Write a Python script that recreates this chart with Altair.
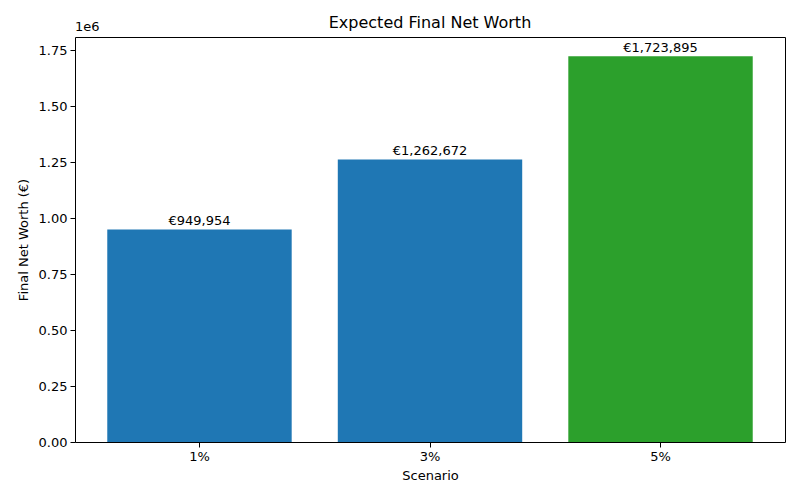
import altair as alt
import pandas as pd

scenarios = ["1%", "3%", "5%"]
values = [949954, 1262672, 1723895]
colors = ["#1f77b4", "#1f77b4", "#2ca02c"]
labels = ["€949,954", "€1,262,672", "€1,723,895"]
y_ticks = [0, 250000, 500000, 750000, 1000000, 1250000, 1500000, 1750000]
title_text = "Expected Final Net Worth"
exponent_text = "1e6"

df = pd.DataFrame({"Scenario": scenarios, "Value": values, "Color": colors, "Label": labels})
one = pd.DataFrame({"t": [title_text], "e": [exponent_text]})

FONT = "DejaVu Sans"
ymax = max(values) * 1.05

x_enc = alt.X("Scenario:N", sort=scenarios,
              scale=alt.Scale(paddingInner=0.2, paddingOuter=0.14),
              axis=alt.Axis(title="Scenario", labelAngle=0, domain=False, ticks=True,
                            tickColor="black", tickSize=5, labelColor="black",
                            labelFont=FONT, labelFontSize=13, titleFont=FONT,
                            titleFontSize=13, titleFontWeight="normal", titleColor="black",
                            labelPadding=3, titlePadding=6, grid=False))
y_enc = alt.Y("Value:Q", scale=alt.Scale(domain=[0, ymax], nice=False, zero=True),
              axis=alt.Axis(title="Final Net Worth (€)", values=y_ticks,
                            labelExpr="format(datum.value/1e6, '.2f')",
                            domain=False, tickColor="black", tickSize=5, labelColor="black",
                            labelFont=FONT, labelFontSize=13, titleFont=FONT,
                            titleFontSize=13, titleFontWeight="normal", titleColor="black",
                            labelPadding=3, titlePadding=8, grid=False))

bars = alt.Chart(df).mark_bar().encode(
    x=x_enc, y=y_enc,
    color=alt.Color("Color:N", scale=None),
)
text = alt.Chart(df).mark_text(baseline="bottom", align="center", font=FONT,
                               fontSize=13, color="black", dy=-1).encode(
    x=alt.X("Scenario:N", sort=scenarios), y="Value:Q", text="Label:N"
)
exp = alt.Chart(one).mark_text(align="left", baseline="bottom", font=FONT,
                               fontSize=13, color="black", fontWeight="normal").encode(
    x=alt.value(0), y=alt.value(-3), text="e:N"
)
ttl = alt.Chart(one).mark_text(align="center", baseline="bottom", font=FONT,
                               fontSize=16, color="black", fontWeight="normal").encode(
    x=alt.value(355), y=alt.value(-6), text="t:N"
)

chart = alt.layer(bars, text, exp, ttl).properties(
    width=710, height=405,
    padding={"left": 67, "top": 29, "right": 7, "bottom": 50},
    autosize=alt.AutoSizeParams(type="none"),
    background="white",
).configure_view(stroke="black", strokeWidth=1)

chart.save("out.html", embed_options={"renderer": "svg", "actions": False})
